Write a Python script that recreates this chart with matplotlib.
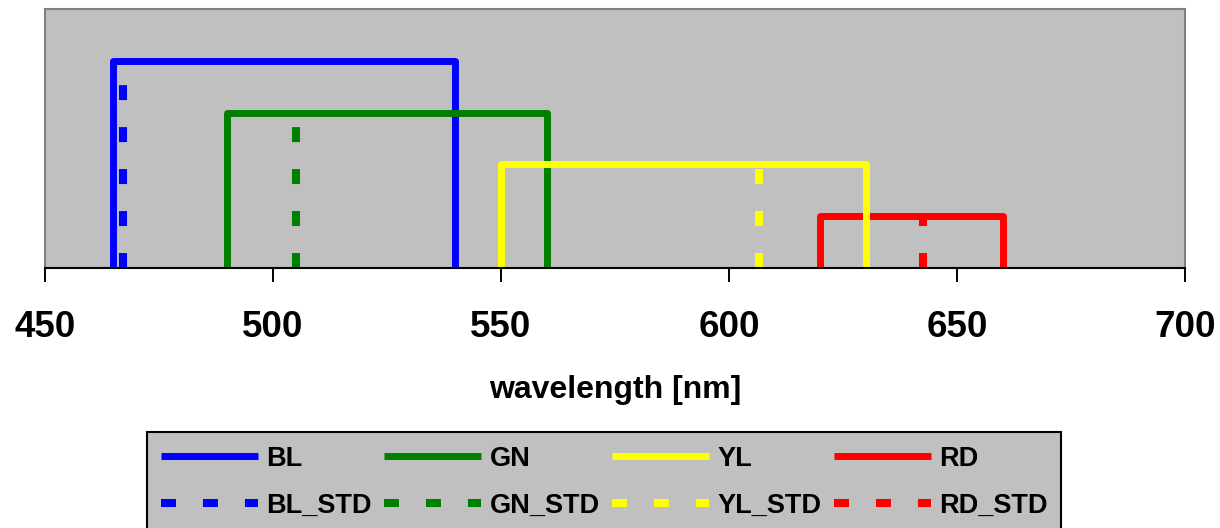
import matplotlib
matplotlib.use("Agg")
import matplotlib.pyplot as plt

plt.rcParams['font.family'] = ['Liberation Sans', 'DejaVu Sans']
plt.rcParams['font.weight'] = 'bold'

# filter bands: start / end wavelength [nm], relative height, STD position
names = ["BL", "GN", "YL", "RD"]
band_start = [465, 490, 550, 620]
band_end = [540, 560, 630, 660]
band_height = [4, 3, 2, 1]
std_pos = [467, 505, 606.5, 642.5]
colors = ["#0000ff", "#008000", "#ffff00", "#ff0000"]
zorders = [2.0, 2.1, 2.3, 2.2]   # yellow is drawn on top of green and red

xticks = [450, 500, 550, 600, 650, 700]

fig = plt.figure(figsize=(12.2, 5.28), dpi=100)
ax = fig.add_axes([45/1220, 260/528, 1140/1220, 259/528])
ax.set_facecolor("#c0c0c0")

dash = (0, (1.86, 3.35))
handles = []
labels = []
for name, x0, x1, h, s, c, z in zip(names, band_start, band_end, band_height,
                                    std_pos, colors, zorders):
    ln, = ax.plot([x0, x0, x1, x1], [0, h, h, 0], color=c, lw=5.0,
                  solid_joinstyle="round", solid_capstyle="butt", zorder=z)
    ls, = ax.plot([s, s], [0, h], color=c, lw=5.8, linestyle=dash,
                  dash_capstyle="butt", zorder=z)
    handles += [ln, ls]
    labels += [name, name + "_STD"]

ax.set_xlim(450, 700)
ax.set_ylim(0, 5)
ax.set_xticks(xticks)
ax.set_yticks([])
ax.tick_params(axis="x", direction="out", length=10, width=1.4, pad=20,
               labelsize=26.5, colors="black")
for lab in ax.get_xticklabels():
    lab.set_fontweight("bold")

for side in ["top", "left", "right"]:
    ax.spines[side].set_color("#808080")
    ax.spines[side].set_linewidth(1.5)
ax.spines["bottom"].set_color("black")
ax.spines["bottom"].set_linewidth(1.5)

ax.set_xlabel("wavelength [nm]", fontsize=23, fontweight="bold", labelpad=22)

leg = fig.legend(handles, labels, ncol=4, loc="upper left",
                 bbox_to_anchor=(147/1220, 1 - 432/528), borderaxespad=0,
                 frameon=True, fancybox=False, facecolor="#c0c0c0",
                 edgecolor="black", framealpha=1, fontsize=19.5,
                 handlelength=3.6, handletextpad=0.3, columnspacing=0.45,
                 labelspacing=0.78, borderpad=0.5)
leg.get_frame().set_linewidth(1.5)
for t in leg.get_texts():
    t.set_fontweight("bold")

fig.savefig("out.png", dpi=100)
